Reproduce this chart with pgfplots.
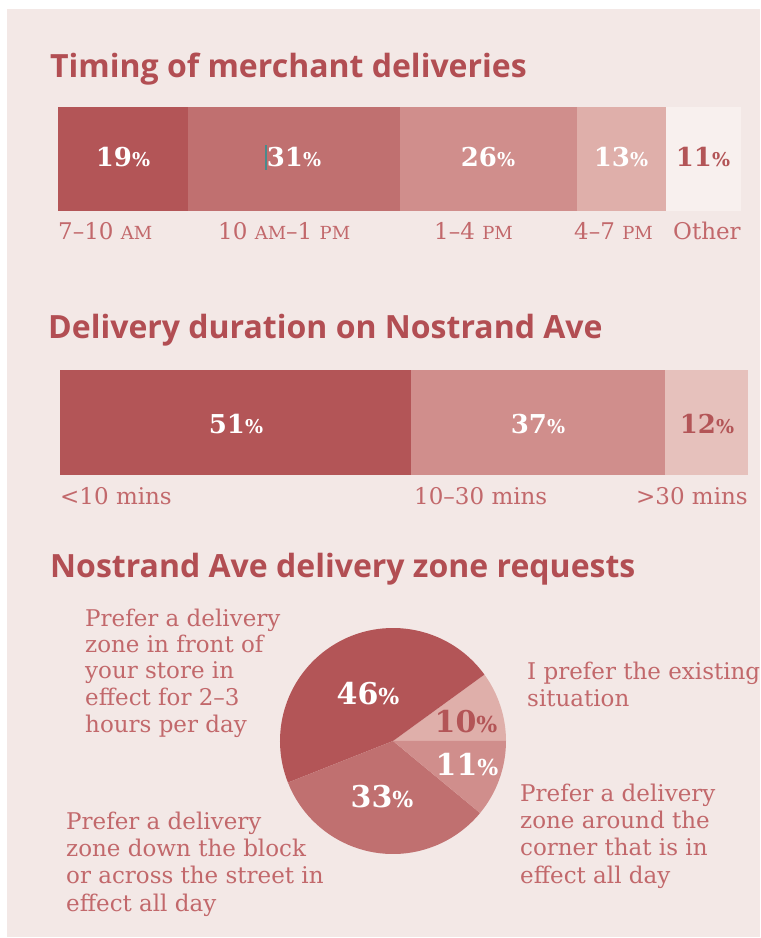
\documentclass[border=0pt]{standalone}
\usepackage{pgfplots}
\pgfplotsset{compat=1.18}
\usepackage{fontspec}
\setmainfont{DejaVu Serif}
\newfontfamily\titlefont{Open Sans}

\definecolor{bg}{HTML}{F3E8E6}
\definecolor{ttl}{HTML}{B24E53}
\definecolor{lbl}{HTML}{C2686B}
\definecolor{cA}{HTML}{B35557}
\definecolor{cB}{HTML}{C07070}
\definecolor{cC}{HTML}{D08E8C}
\definecolor{cD}{HTML}{DFAFAA}
\definecolor{cE}{HTML}{F8F0EE}
\definecolor{cF}{HTML}{E6C1BC}
\definecolor{cursor}{HTML}{4A8A8C}

% big number, smaller percent sign
\newcommand{\pct}[1]{{\bfseries\fontsize{26}{26}\selectfont #1{\fontsize{19}{19}\selectfont\%}}}
\newcommand{\pctbig}[1]{{\bfseries\fontsize{30}{30}\selectfont #1{\fontsize{22}{22}\selectfont\%}}}
% fake small caps
\newcommand{\sm}[1]{{\fontsize{18}{18}\selectfont #1}}
\newcommand{\ttlfont}{\titlefont\bfseries\fontsize{32}{34}\selectfont}
\newcommand{\lblfont}{\fontsize{23}{27}\selectfont}

\pgfplotsset{
  barstrip/.style={
    scale only axis, hide axis, clip=false,
    xbar stacked, xmin=0, xmax=100, ymin=-0.5, ymax=0.5,
    anchor=south west},
}

\begin{document}
\begin{tikzpicture}[x=1pt,y=1pt]
\fill[white] (0,0) rectangle (760,938);
\fill[bg] (7,1) rectangle (760,929);

% ---- titles
\node[anchor=base west, text=ttl, font=\ttlfont, inner sep=0] at (50,860) {Timing of merchant deliveries};
\node[anchor=base west, text=ttl, font=\ttlfont, inner sep=0] at (48,599) {Delivery duration on Nostrand Ave};
\node[anchor=base west, text=ttl, font=\ttlfont, inner sep=0] at (50,360) {Nostrand Ave delivery zone requests};

% ---- timing of deliveries
\begin{axis}[barstrip, at={(58pt,727pt)}, width=683pt, height=104pt, bar width=104pt]
\addplot[fill=cA, draw=none] coordinates {(19,0)};
\addplot[fill=cB, draw=none] coordinates {(31,0)};
\addplot[fill=cC, draw=none] coordinates {(26,0)};
\addplot[fill=cD, draw=none] coordinates {(13,0)};
\addplot[fill=cE, draw=none] coordinates {(11,0)};
\end{axis}
\node[text=white] at (123,781) {\pct{19}};
\node[text=white] at (294,781) {\pct{31}};
\node[text=white] at (488,781) {\pct{26}};
\node[text=white] at (621,781) {\pct{13}};
\node[text=cA] at (703,781) {\pct{11}};
\draw[cursor, line width=2.5pt] (266,768) -- (266,793);

\begin{scope}[every node/.style={anchor=base west, inner sep=0, text=lbl, font=\lblfont}]
\node at (58,698) {7–10 \sm{AM}};
\node at (218,698) {10 \sm{AM}–1 \sm{PM}};
\node at (434,698) {1–4 \sm{PM}};
\node at (574,698) {4–7 \sm{PM}};
\node at (673,698) {Other};
\end{scope}

% ---- delivery duration
\begin{axis}[barstrip, at={(60pt,463pt)}, width=688pt, height=105pt, bar width=105pt]
\addplot[fill=cA, draw=none] coordinates {(51,0)};
\addplot[fill=cC, draw=none] coordinates {(37,0)};
\addplot[fill=cF, draw=none] coordinates {(12,0)};
\end{axis}
\node[text=white] at (236,514) {\pct{51}};
\node[text=white] at (538,514) {\pct{37}};
\node[text=cA] at (707,514) {\pct{12}};

\begin{scope}[every node/.style={inner sep=0, text=lbl, font=\lblfont}]
\node[anchor=base west] at (60,433) {<10 mins};
\node[anchor=base west] at (414,433) {10–30 mins};
\node[anchor=base east] at (748,433) {>30 mins};
\end{scope}

% ---- zone requests pie
\begin{axis}[scale only axis, hide axis, clip=false, at={(280pt,84pt)}, anchor=south west,
  width=226pt, height=226pt, xmin=-1, xmax=1, ymin=-1, ymax=1]
\pgfplotsextra{
  \gdef\acc{0}
  \foreach \v/\c in {10/cD, 46/cA, 33/cB, 11/cC}{
    \pgfmathsetmacro\s{\acc*3.6}
    \pgfmathsetmacro\e{(\acc+\v)*3.6}
    \fill[\c] (axis cs:0,0) -- ++(\s:113pt) arc[start angle=\s, end angle=\e, radius=113pt] -- cycle;
    \pgfmathsetmacro\na{\acc+\v}\global\let\acc\na
  }
}
\end{axis}
\node[text=white] at (368,244) {\pctbig{46}};
\node[text=cA] at (466,216) {\pctbig{10}};
\node[text=white] at (467,173) {\pctbig{11}};
\node[text=white] at (382,141) {\pctbig{33}};

\begin{scope}[every node/.style={anchor=base west, inner sep=0, text=lbl, font=\lblfont}]
\node at (85,311) {Prefer a delivery};
\node at (85,285) {zone in front of};
\node at (85,259) {your store in};
\node at (85,232) {effect for 2–3};
\node at (85,205) {hours per day};
\node at (527,258) {I prefer the existing};
\node at (527,231) {situation};
\node at (520,136) {Prefer a delivery};
\node at (520,109) {zone around the};
\node at (520,82) {corner that is in};
\node at (520,54) {effect all day};
\node at (66,108) {Prefer a delivery};
\node at (66,81) {zone down the block};
\node at (66,54) {or across the street in};
\node at (66,26) {effect all day};
\end{scope}
\end{tikzpicture}
\end{document}
